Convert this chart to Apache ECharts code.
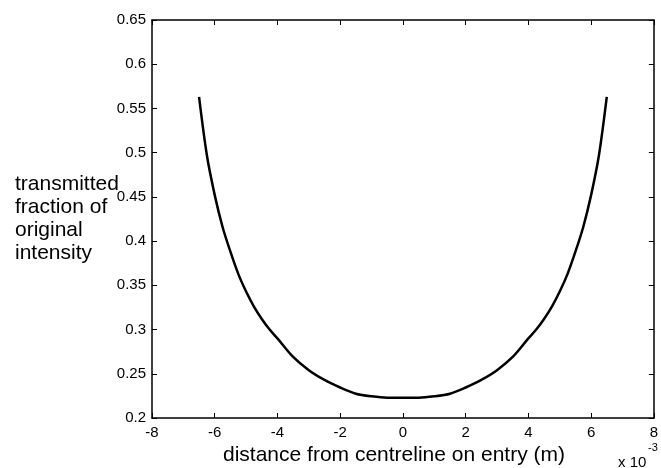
<!DOCTYPE html>
<html>
<head>
<meta charset="utf-8">
<script src="https://cdn.jsdelivr.net/npm/echarts@6/dist/echarts.min.js"></script>
<style>html,body{margin:0;padding:0;background:#fff;}#c{width:661px;height:468px;}</style>
</head>
<body>
<div id="c"></div>
<script>
// distance from centreline (x 10^-3 m)
const xValues = [-6.5,-6.25,-6.0,-5.75,-5.5,-5.25,-5.0,-4.75,-4.5,-4.25,-4.0,-3.5,-3.0,-2.5,-2.0,-1.5,-1.0,-0.5,0,0.5,1.0,1.5,2.0,2.5,3.0,3.5,4.0,4.25,4.5,4.75,5.0,5.25,5.5,5.75,6.0,6.25,6.5];
// transmitted fraction of original intensity
const yValues = [0.563,0.497,0.452,0.416,0.388,0.363,0.343,0.326,0.312,0.300,0.290,0.269,0.254,0.243,0.2345,0.2275,0.2245,0.223,0.223,0.223,0.2245,0.2275,0.2345,0.243,0.254,0.269,0.290,0.300,0.312,0.326,0.343,0.363,0.388,0.416,0.452,0.497,0.563];
const yTitleLines = ["transmitted","fraction of","original","intensity"];
const xTitle = "distance from centreline on entry (m)";
const scaleText = "x 10";
const scaleExp = "-3";

const font = "'Liberation Sans', Arial, Helvetica, sans-serif";
const chart = echarts.init(document.getElementById('c'));
const axisLine = {show:true, onZero:false, lineStyle:{color:'#000', width:1.5}};
const tickIn = {show:true, inside:true, length:5, lineStyle:{color:'#000', width:1}};
const ts = (size, lh) => ({fontFamily:font, fontSize:size, lineHeight:lh, fontWeight:'normal', color:'#000'});
chart.setOption({
  animation:false,
  backgroundColor:'#fff',
  title:[
    {text: yTitleLines.join('\n'), left:15, top:173, padding:0, textStyle:ts(21, 23)},
    {text: xTitle, left:394, textAlign:'center', top:445, padding:0, textStyle:ts(21, 21)},
    {text: scaleText, left:618, top:455, padding:0, textStyle:ts(15, 15)},
    {text: scaleExp, left:648, top:442, padding:0, textStyle:ts(11, 11)}
  ],
  grid:{left:152, right:5, top:20, bottom:50},
  xAxis:[
    {type:'value', min:-8, max:8, interval:2, position:'bottom', axisLine, axisTick:tickIn, splitLine:{show:false},
     axisLabel:{color:'#000', fontFamily:font, fontSize:15, margin:7}},
    {type:'value', min:-8, max:8, interval:2, position:'top', axisLine, axisTick:tickIn, splitLine:{show:false}, axisLabel:{show:false}}
  ],
  yAxis:[
    {type:'value', min:0.2, max:0.65, interval:0.05, position:'left', axisLine, axisTick:tickIn, splitLine:{show:false},
     axisLabel:{color:'#000', fontFamily:font, fontSize:15, margin:6, formatter:v=>String(+v.toFixed(2))}},
    {type:'value', min:0.2, max:0.65, interval:0.05, position:'right', axisLine, axisTick:tickIn, splitLine:{show:false}, axisLabel:{show:false}}
  ],
  series:[{
    type:'line', xAxisIndex:0, yAxisIndex:0, showSymbol:false, smooth:0.3,
    lineStyle:{color:'#000', width:2.5},
    data: xValues.map((x,i)=>[x, yValues[i]])
  }]
});
</script>
</body>
</html>
